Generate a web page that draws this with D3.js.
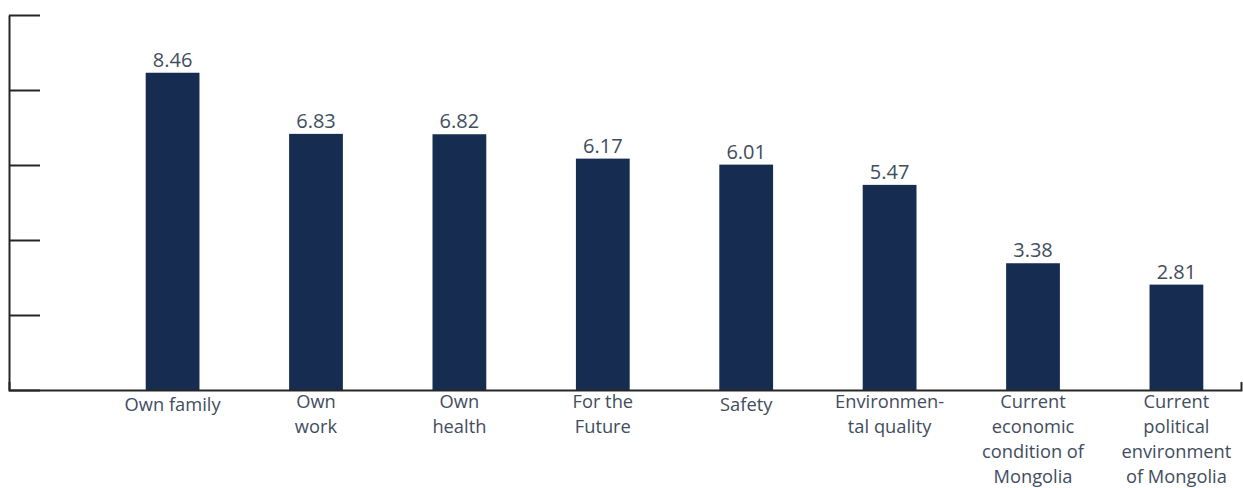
<!DOCTYPE html>
<html>
<head>
<meta charset="utf-8">
<script src="https://cdn.jsdelivr.net/npm/d3@7"></script>
<style>
  html, body { margin: 0; padding: 0; background: #fff; }
  svg { display: block; }
  text { font-family: "Segoe UI", "Open Sans", "Noto Sans", sans-serif; }
</style>
</head>
<body>
<svg id="chart" width="1243" height="488"></svg>
<script>
// Average score per area of concern
const categories = [
  "Own family", "Own work", "Own health", "For the Future",
  "Safety", "Environmental quality",
  "Current economic condition of Mongolia",
  "Current political environment of Mongolia"
];
const values = [8.46, 6.83, 6.82, 6.17, 6.01, 5.47, 3.38, 2.81];
// Wrapped category labels, one entry per line
const labelLines = [
  ["Own family"],
  ["Own", "work"],
  ["Own", "health"],
  ["For the", "Future"],
  ["Safety"],
  ["Environmen-", "tal quality"],
  ["Current", "economic", "condition of", "Mongolia"],
  ["Current", "political", "environment", "of Mongolia"]
];
const yTicks = [0, 2, 4, 6, 8, 10];

const svg = d3.select("#chart");
const barColor = "#172c51";
const textColor = "#414d5e";
const axisColor = "#262626";

const axisLeft = 9, axisRightEnd = 1241;
const y = d3.scaleLinear().domain([0, 10]).range([390, 15]);
const x = d3.scaleBand()
  .domain(categories)
  .range([74, 1275])
  .paddingInner(0.625)
  .paddingOuter(0.5);

// Bars
svg.append("g").selectAll("rect")
  .data(values)
  .join("rect")
  .attr("x", (d, i) => x(categories[i]))
  .attr("width", x.bandwidth())
  .attr("y", d => y(d))
  .attr("height", d => y(0) - y(d))
  .attr("fill", barColor);

// Value labels
svg.append("g").selectAll("text")
  .data(values)
  .join("text")
  .attr("x", (d, i) => x(categories[i]) + x.bandwidth() / 2)
  .attr("y", d => y(d) - 6)
  .attr("text-anchor", "middle")
  .attr("font-size", 20)
  .attr("fill", textColor)
  .text(d => d.toFixed(2));

// Vertical axis: ticks point inward, no tick labels
const yAxis = svg.append("g")
  .attr("transform", `translate(${axisLeft},0)`)
  .call(d3.axisRight(y).tickValues(yTicks).tickSize(31).tickSizeOuter(0).tickFormat(""));
yAxis.selectAll("path, line").attr("stroke", axisColor).attr("stroke-width", 2);

// Horizontal baseline with a short end tick
const xLine = d3.scaleLinear().domain([0, 1]).range([axisLeft, axisRightEnd]);
const xAxis = svg.append("g")
  .attr("transform", `translate(0,${y(0)})`)
  .call(d3.axisBottom(xLine).tickValues([]).tickSizeOuter(-8));
xAxis.select("path").attr("stroke", axisColor).attr("stroke-width", 2);

// Category labels
const lab = svg.append("g").selectAll("text")
  .data(labelLines)
  .join("text")
  .attr("x", (d, i) => x(categories[i]) + x.bandwidth() / 2)
  .attr("y", d => y(0) + (d.length > 1 ? 18 : 21))
  .attr("text-anchor", "middle")
  .attr("font-size", 18.3)
  .attr("fill", textColor);
lab.selectAll("tspan")
  .data(d => d)
  .join("tspan")
  .attr("x", function () { return d3.select(this.parentNode).attr("x"); })
  .attr("dy", (d, j) => j === 0 ? 0 : 25)
  .text(d => d);
</script>
</body>
</html>
